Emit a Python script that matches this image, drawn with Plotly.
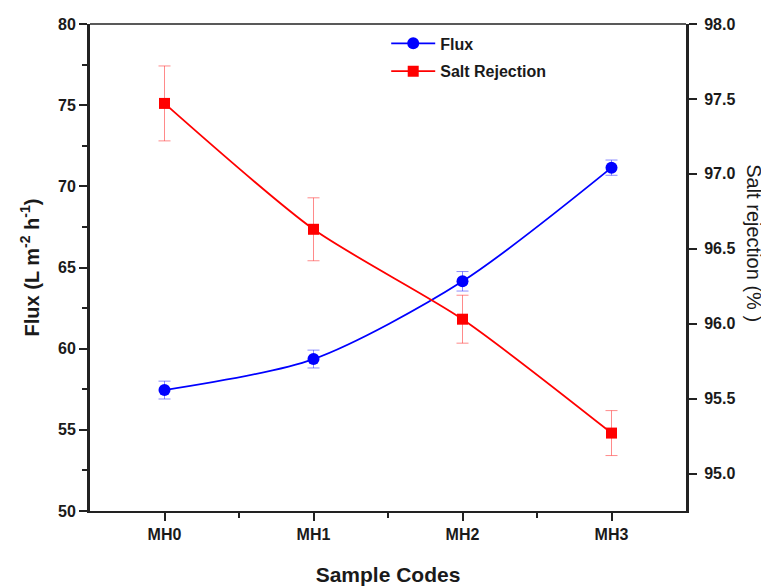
import plotly.graph_objects as go

categories = ["MH0", "MH1", "MH2", "MH3"]
flux = [57.45, 59.36, 64.15, 71.15]
flux_err = [0.55, 0.55, 0.6, 0.47]
salt_rejection = [97.47, 96.63, 96.03, 95.27]
salt_err = [0.25, 0.21, 0.16, 0.15]

x_idx = list(range(len(categories)))

fig = go.Figure()
fig.add_trace(go.Scatter(
    x=x_idx, y=flux, name="Flux", mode="lines+markers", legendgroup="a",
    line=dict(color="#0000ff", width=1.8, shape="spline", smoothing=0.8),
    marker=dict(symbol="circle", size=12, color="#0000ff"),
    error_y=dict(type="data", array=flux_err, color="rgba(60,60,255,0.6)", thickness=1, width=6),
    yaxis="y"))
fig.add_trace(go.Scatter(
    x=x_idx, y=salt_rejection, name="Salt Rejection", mode="lines+markers", legendgroup="b",
    line=dict(color="#ff0000", width=1.8, shape="spline", smoothing=0.7),
    marker=dict(symbol="square", size=11, color="#ff0000"),
    error_y=dict(type="data", array=salt_err, color="rgba(255,60,60,0.6)", thickness=1, width=6),
    yaxis="y2"))

tickfont = dict(family="Liberation Sans, Arial", size=16, color="#1a1a1a", weight="bold")

fig.update_layout(
    width=769, height=586,
    margin=dict(l=82, r=91, t=16, b=83, autoexpand=False),
    plot_bgcolor="white", paper_bgcolor="white",
    showlegend=True,
    legend=dict(x=0.497, y=0.995, xanchor="left", yanchor="top",
                font=dict(family="Liberation Sans, Arial", size=16, color="#1a1a1a", weight="bold"),
                bgcolor="rgba(0,0,0,0)", tracegroupgap=4, itemwidth=44),
    xaxis=dict(
        range=[-0.5, 3.5], tickmode="array", tickvals=x_idx, ticktext=categories,
        showline=True, linecolor="#222", linewidth=2, mirror=False,
        ticks="outside", ticklen=8, tickwidth=1.5, tickcolor="#222",
        minor=dict(tickvals=[0.5, 1.5, 2.5], ticks="outside", ticklen=5, tickwidth=1.5, tickcolor="#222"),
        showgrid=False, zeroline=False, tickfont=tickfont,
        title=dict(text="Sample Codes", font=dict(family="Liberation Sans, Arial", size=21, color="#1a1a1a", weight="bold"), standoff=25),
    ),
    yaxis=dict(
        range=[50, 80], tickmode="array", tickvals=[50, 55, 60, 65, 70, 75, 80],
        showline=True, linecolor="#222", linewidth=3,
        ticks="outside", ticklen=8, tickwidth=1.5, tickcolor="#222",
        minor=dict(dtick=2.5, ticks="outside", ticklen=5, tickwidth=1.5, tickcolor="#222"),
        showgrid=False, zeroline=False, tickfont=tickfont,
        title=dict(text="Flux (L m<sup>-2</sup> h<sup>-1</sup>)", font=dict(family="Liberation Sans, Arial", size=20, color="#1a1a1a", weight="bold"), standoff=14),
    ),
    yaxis2=dict(
        range=[94.75, 98], overlaying="y", side="right",
        tickmode="array", tickvals=[95.0, 95.5, 96.0, 96.5, 97.0, 97.5, 98.0],
        ticktext=["95.0", "95.5", "96.0", "96.5", "97.0", "97.5", "98.0"],
        showline=True, linecolor="#222", linewidth=3,
        ticks="outside", ticklen=8, tickwidth=1.5, tickcolor="#222",
        ticklabelstandoff=4,
        showgrid=False, zeroline=False, tickfont=tickfont,
    ),
    shapes=[dict(type="line", xref="paper", yref="paper", x0=0, x1=1, y0=1, y1=1,
                 line=dict(color="#222", width=1.5))],
    annotations=[dict(text="Salt rejection (% )", xref="paper", yref="paper",
                      x=1.114, y=0.55, textangle=90, showarrow=False,
                      font=dict(family="Liberation Sans, Arial", size=20, color="#1a1a1a"),
                      xanchor="center", yanchor="middle")],
)

fig.write_html("out.html")
